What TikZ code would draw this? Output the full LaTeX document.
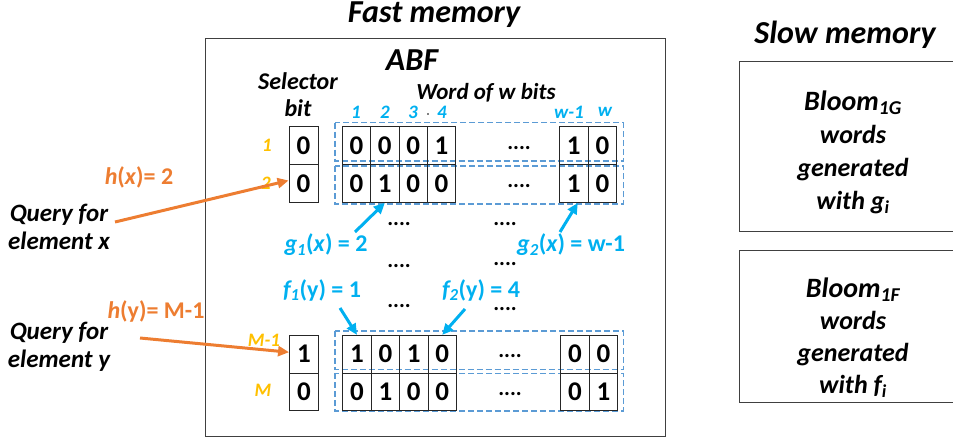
\documentclass[tikz,border=0pt]{standalone}
\usepackage{fontspec}
\setmainfont{Carlito}
\usetikzlibrary{arrows.meta}
\definecolor{abforange}{HTML}{ED7D31}
\definecolor{abfcyan}{HTML}{00B0F0}
\definecolor{abfgold}{HTML}{FFC000}
\definecolor{abfdash}{HTML}{5B9BD5}
\tikzset{
	cell/.style={draw=black!85, line width=0.9pt, minimum width=28.4pt, minimum height=37.8pt, inner sep=0pt, font=\fontsize{27}{30}\selectfont\bfseries},
	selcell/.style={cell, minimum width=29pt},
	title/.style={font=\fontsize{32}{36}\selectfont\bfseries\itshape},
	blacktext/.style={align=center, font=\fontsize{25}{28}\selectfont\bfseries\itshape},
	rowlab/.style={text=abfgold, font=\fontsize{19}{22}\selectfont\bfseries\itshape},
	collab/.style={text=abfcyan, font=\fontsize{19}{22}\selectfont\bfseries\itshape},
	hashlab/.style={inner sep=1pt, font=\fontsize{24}{28}\selectfont\bfseries},
	fourdots/.style={anchor=base, inner sep=0.5pt, font=\fontsize{22}{26}\selectfont\bfseries},
	dashbox/.style={draw=abfdash, dash pattern=on 6pt off 3pt, line width=1.1pt},
	memoryframe/.style={draw=black!75, line width=0.9pt},
	hasharrow/.style={-{Triangle[length=11pt, width=10pt]}, line width=3pt},
}
\begin{document}
\begin{tikzpicture}[x=1pt, y=-1pt]
		\useasboundingbox (0,0) rectangle (953,439);
		\draw[memoryframe] (205,38) rectangle (665,436);
		\draw[memoryframe] (960,61) -- (739,61) -- (739,231) -- (960,231);
		\draw[memoryframe] (960,250) -- (739,250) -- (739,402) -- (960,402);
		
		\node[title] (fasttitle) at (434,15) {Fast memory};
		\node[title] (slowtitle) at (845,35) {Slow memory};
		\node[title] (abf) at (412,60) {ABF};
		\node[blacktext, font=\fontsize{24}{27}\selectfont\bfseries\itshape] (selector) at (298,95) {Selector\\bit};
		\node[blacktext, font=\fontsize{23}{28}\selectfont\bfseries\itshape] (wordlab) at (486,93) {Word of w bits};
		
		\node[blacktext, font=\fontsize{26}{33}\selectfont\bfseries\itshape] (bloomg) at (853,152) {{\fontsize{28}{33}\selectfont Bloom\textsubscript{1G}}\\words\\generated\\with g\textsubscript{i}};
		\node[blacktext, font=\fontsize{26}{32}\selectfont\bfseries\itshape] (bloomf) at (853,338) {{\fontsize{28}{32}\selectfont Bloom\textsubscript{1F}}\\words\\generated\\with f\textsubscript{i}};
		
		\node[collab] (col1) at (356,112) {1};
		\node[collab] (col2) at (385,112) {2};
		\node[collab] (col3) at (413,112) {3};
		\node[collab] (col4) at (442,112) {4};
		\fill (428,114) circle (0.8);
		\node[collab] (colw1) at (569,112) {w-1};
		\node[collab] (colw) at (605,112) {w};
		
		\draw[dashbox] (335,122.7) rectangle (623.3,161);
		\draw[dashbox] (335,166) rectangle (623.3,204);
		\draw[dashbox] (335,331) rectangle (623.3,369.3);
		\draw[dashbox] (335,373.3) rectangle (623.3,411);
		
		\node[rowlab] (row1) at (267,145) {1};
		\node[rowlab] (row2) at (266,183) {2};
		\node[rowlab] (rowm1) at (264,340) {M-1};
		\node[rowlab] (rowm) at (263,390) {M};
		
		\node[selcell] (sa) at (303.5,145.7) {0};
		\node[selcell] (sb) at (303.5,183.5) {0};
		\node[selcell] (sc) at (304,354.2) {1};
		\node[selcell] (sd) at (304,392) {0};
		
		\foreach \b [count=\i] in {0,0,0,1}
			\node[cell] (ra\i) at (328.1+28.35*\i,145.7) {\b};
		\foreach \b [count=\i] in {0,1,0,0}
			\node[cell] (rb\i) at (328.1+28.35*\i,183.5) {\b};
		\foreach \b [count=\i] in {1,0,1,0}
			\node[cell] (rc\i) at (328.6+28.4*\i,354.2) {\b};
		\foreach \b [count=\i] in {0,1,0,0}
			\node[cell] (rd\i) at (328.6+28.4*\i,392) {\b};
		\node[cell] (ra5) at (573.8,145.7) {1};
		\node[cell] (ra6) at (602.5,145.7) {0};
		\node[cell] (rb5) at (573.8,183.5) {1};
		\node[cell] (rb6) at (602.5,183.5) {0};
		\node[cell] (rc5) at (575,354.2) {0};
		\node[cell] (rc6) at (603.5,354.2) {0};
		\node[cell] (rd5) at (575,392) {0};
		\node[cell] (rd6) at (603.5,392) {1};
		
		\node[fourdots] (dotsa) at (519,149) {....};
		\node[fourdots] (dotsb) at (519,187) {....};
		\node[fourdots] (dotsc) at (510,357) {....};
		\node[fourdots] (dotsd) at (510,395) {....};
		\node[fourdots] (dotse) at (399,225) {....};
		\node[fourdots] (dotsf) at (505,225) {....};
		\node[fourdots] (dotsg) at (399,267) {....};
		\node[fourdots] (dotsh) at (505,265) {....};
		\node[fourdots] (dotsi) at (399,307) {....};
		\node[fourdots] (dotsj) at (505,310) {....};
		
		\node[hashlab, text=abfcyan] (g1) at (326,245) {\textit{g\textsubscript{1}}(\textit{x}) = 2};
		\node[hashlab, text=abfcyan] (g2) at (571,245) {\textit{g\textsubscript{2}}(\textit{x}) = w-1};
		\node[hashlab, text=abfcyan] (f1) at (322,290) {\textit{f\textsubscript{1}}(y) = 1};
		\node[hashlab, text=abfcyan] (f2) at (481,290) {\textit{f\textsubscript{2}}(y) = 4};
		\node[hashlab, text=abforange] (hx) at (139,177) {\textit{h}(\textit{x})= 2};
		\node[hashlab, text=abforange] (hy) at (156,311) {\textit{h}(y)= M-1};
		
		\node[blacktext] (queryx) at (59,226.5) {Query for\\element x};
		\node[blacktext] (queryy) at (59,347) {Query for\\element y};
		
		\coordinate (g1s) at (355,232);
		\coordinate (g2s) at (560,232);
		\coordinate (f1s) at (340,308);
		\coordinate (f2s) at (465,309);
		\coordinate (qxs) at (115,222);
		\coordinate (qys) at (140,338);
		
		\draw[hasharrow, abfcyan] (g1s) -- (rb2.south);
		\draw[hasharrow, abfcyan] (g2s) -- ([xshift=4pt]rb5.south);
		\draw[hasharrow, abfcyan] (f1s) -- (rc1.north);
		\draw[hasharrow, abfcyan] (f2s) -- (rc4.north);
		\draw[hasharrow, abforange] (qxs) -- ([yshift=3pt]sb.west);
		\draw[hasharrow, abforange] (qys) -- ([yshift=2pt]sc.west);
	\end{tikzpicture}
\end{document}
